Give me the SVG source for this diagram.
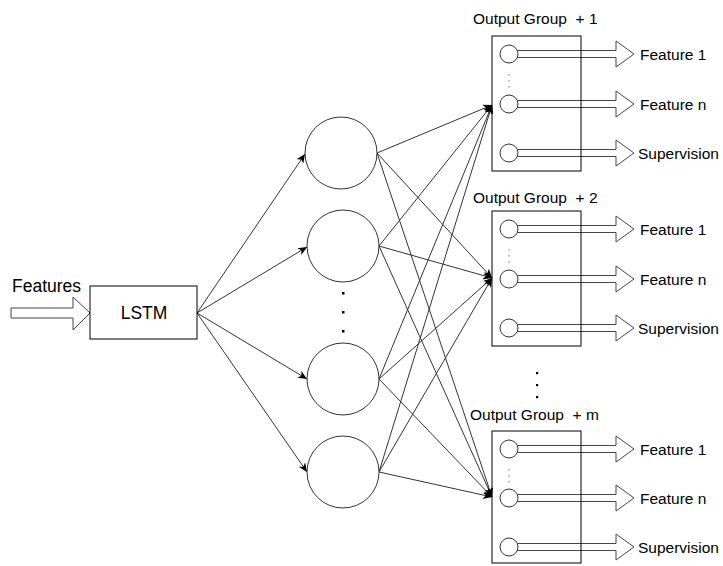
<svg xmlns="http://www.w3.org/2000/svg" width="723" height="566" viewBox="0 0 723 566">
<defs>
<style>
text{font-family:"Liberation Sans",Arial,sans-serif;fill:#000;white-space:pre}
.lbl{font-size:15.5px}
.big{font-size:17.5px}
.box{fill:none;stroke:#000;stroke-width:1}
.node{fill:#fff;stroke:#333;stroke-width:1}
.hollow{fill:#fff;stroke:#444;stroke-width:1}
.conn{fill:none;stroke:#333;stroke-width:1;marker-end:url(#ah)}
.dot{fill:#000}
.sdot{fill:#888}
</style>
<marker id="ah" markerUnits="userSpaceOnUse" markerWidth="10" markerHeight="8" refX="9" refY="4" orient="auto">
<path d="M0,0 L9,4 L0,8 L2.5,4 Z" fill="#000"/>
</marker>
</defs>
<rect width="723" height="566" fill="#fff"/>

<g id="connectors">
<line class="conn" x1="197" y1="313" x2="305" y2="154"/>
<line class="conn" x1="197" y1="313" x2="307" y2="247"/>
<line class="conn" x1="197" y1="313" x2="307" y2="379"/>
<line class="conn" x1="197" y1="313" x2="307" y2="472"/>

<line class="conn" x1="377" y1="153" x2="492" y2="105"/>
<line class="conn" x1="377" y1="153" x2="492" y2="278"/>
<line class="conn" x1="377" y1="153" x2="492" y2="497"/>
<line class="conn" x1="379" y1="246" x2="492" y2="105"/>
<line class="conn" x1="379" y1="246" x2="492" y2="278"/>
<line class="conn" x1="379" y1="246" x2="492" y2="497"/>
<line class="conn" x1="379" y1="379" x2="492" y2="105"/>
<line class="conn" x1="379" y1="379" x2="492" y2="278"/>
<line class="conn" x1="379" y1="379" x2="492" y2="497"/>
<line class="conn" x1="379" y1="472" x2="492" y2="105"/>
<line class="conn" x1="379" y1="472" x2="492" y2="278"/>
<line class="conn" x1="379" y1="472" x2="492" y2="497"/>
</g>

<g id="input">
<text class="big" x="12" y="292">Features</text>
<path class="hollow" d="M11,308 H73 V297 L90,313 L73,330 V318 H11 Z"/>
</g>

<g id="lstm">
<rect class="box" x="90" y="286" width="107" height="53"/>
<text class="big" x="144" y="319" text-anchor="middle">LSTM</text>
</g>

<g id="hidden1"><circle class="node" cx="341" cy="153" r="36"/></g>
<g id="hidden2"><circle class="node" cx="343" cy="246" r="36"/></g>
<g id="hidden-dots">
<rect class="dot" x="342" y="292" width="2.5" height="2.5"/>
<rect class="dot" x="342" y="311" width="2.5" height="2.5"/>
<rect class="dot" x="342" y="330" width="2.5" height="2.5"/>
</g>
<g id="hidden3"><circle class="node" cx="343" cy="379" r="36"/></g>
<g id="hidden4"><circle class="node" cx="343" cy="472" r="36"/></g>

<g id="group1">
<text class="lbl" x="473" y="24">Output Group  + 1</text>
<path class="hollow" d="M515,50.5 H616 V41 L634,54 L616,67 V57.5 H515 Z"/>
<path class="hollow" d="M515,100.5 H616 V91 L634,104 L616,117 V107.5 H515 Z"/>
<path class="hollow" d="M515,149.5 H616 V140 L634,153 L616,166 V156.5 H515 Z"/>
<circle class="node" cx="509" cy="54" r="9"/>
<circle class="node" cx="509" cy="104" r="9"/>
<circle class="node" cx="509" cy="153" r="9"/>
<rect class="sdot" x="508.5" y="74" width="1.2" height="1.5"/>
<rect class="sdot" x="508.5" y="80" width="1.2" height="1.5"/>
<rect class="sdot" x="508.5" y="86" width="1.2" height="1.5"/>
<rect class="box" x="492" y="36" width="89" height="135"/>
<text class="lbl" x="640" y="60">Feature 1</text>
<text class="lbl" x="640" y="110">Feature n</text>
<text class="lbl" x="638" y="159">Supervision</text>
</g>

<g id="group2">
<text class="lbl" x="473" y="203">Output Group  + 2</text>
<path class="hollow" d="M515,225.5 H616 V216 L634,229 L616,242 V232.5 H515 Z"/>
<path class="hollow" d="M515,275.5 H616 V266 L634,279 L616,292 V282.5 H515 Z"/>
<path class="hollow" d="M515,324.5 H616 V315 L634,328 L616,341 V331.5 H515 Z"/>
<circle class="node" cx="509" cy="229" r="9"/>
<circle class="node" cx="509" cy="279" r="9"/>
<circle class="node" cx="509" cy="328" r="9"/>
<rect class="sdot" x="508.5" y="249" width="1.2" height="1.5"/>
<rect class="sdot" x="508.5" y="255" width="1.2" height="1.5"/>
<rect class="sdot" x="508.5" y="261" width="1.2" height="1.5"/>
<rect class="box" x="492" y="211" width="89" height="135"/>
<text class="lbl" x="640" y="235">Feature 1</text>
<text class="lbl" x="640" y="285">Feature n</text>
<text class="lbl" x="638" y="334">Supervision</text>
</g>

<g id="group-dots">
<rect class="dot" x="536" y="372" width="2.2" height="2.2"/>
<rect class="dot" x="536" y="384" width="2.2" height="2.2"/>
<rect class="dot" x="536" y="396" width="2.2" height="2.2"/>
</g>

<g id="groupm">
<text class="lbl" x="470" y="420">Output Group  + m</text>
<path class="hollow" d="M515,445.5 H616 V436 L634,449 L616,462 V452.5 H515 Z"/>
<path class="hollow" d="M515,494.5 H616 V485 L634,498 L616,511 V501.5 H515 Z"/>
<path class="hollow" d="M515,543.5 H616 V534 L634,547 L616,560 V550.5 H515 Z"/>
<circle class="node" cx="509" cy="449" r="9"/>
<circle class="node" cx="509" cy="498" r="9"/>
<circle class="node" cx="509" cy="547" r="9"/>
<rect class="sdot" x="508.5" y="469" width="1.2" height="1.5"/>
<rect class="sdot" x="508.5" y="475" width="1.2" height="1.5"/>
<rect class="sdot" x="508.5" y="481" width="1.2" height="1.5"/>
<rect class="box" x="492" y="431" width="89" height="132"/>
<text class="lbl" x="640" y="455">Feature 1</text>
<text class="lbl" x="640" y="504">Feature n</text>
<text class="lbl" x="638" y="553">Supervision</text>
</g>
</svg>
